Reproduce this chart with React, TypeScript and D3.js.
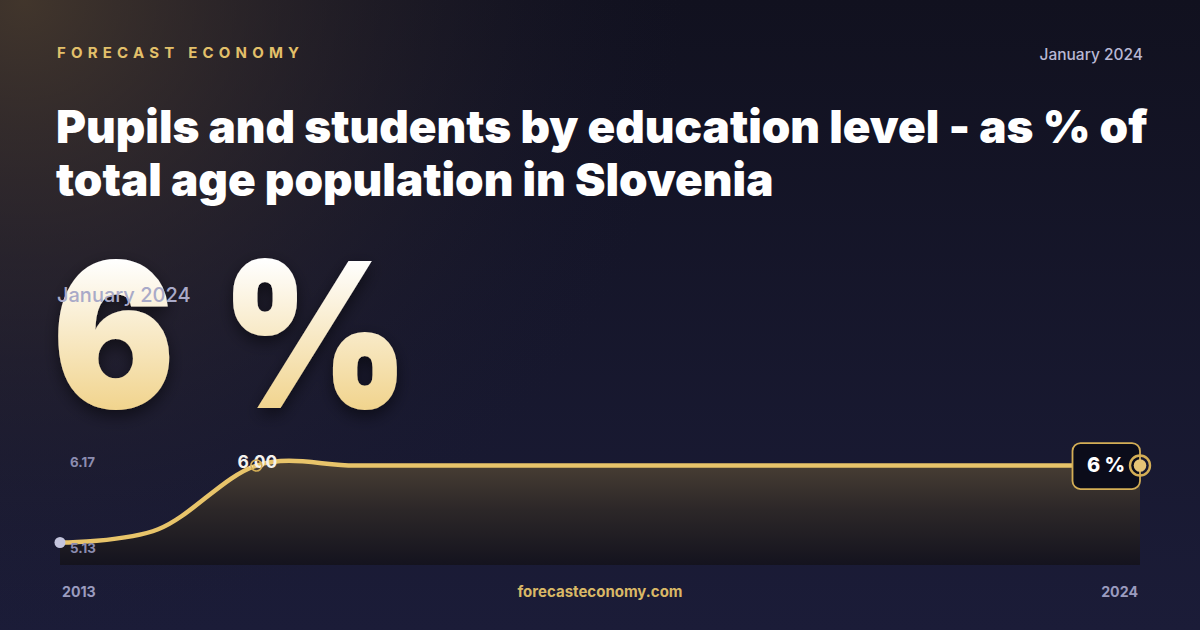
import React from "react";
import * as d3 from "d3";

const years = [2013, 2014, 2015, 2016, 2017, 2018, 2019, 2020, 2021, 2022, 2023, 2024];
const values = [5.13, 5.28, 6.0, 6.0, 6.0, 6.0, 6.0, 6.0, 6.0, 6.0, 6.0, 6.0];
const yTicks = [6.17, 5.13];
const xLabels = ["2013", "2024"];
const brand = "FORECAST ECONOMY";
const dateLabel = "January 2024";
const titleLines = ["Pupils and students by education level - as % of", "total age population in Slovenia"];
const bigValue = "6 %";
const highlightIndex = 2;
const highlightLabel = "6.00";
const endLabel = "6 %";
const site = "forecasteconomy.com";

const W = 1200;
const H = 630;
const FONT = "Inter, 'Noto Sans', sans-serif";

export default function App() {
  const x = d3.scaleLinear().domain([years[0], years[years.length - 1]]).range([60, 1140]);
  const y = d3.scaleLinear().domain([5.13, 6.17]).range([542.5, 450.5]);
  const baseY = 565;
  const pts: [number, number][] = years.map((yr, i) => [x(yr), y(values[i])]);
  const line = d3.line().curve(d3.curveCardinal.tension(0))(pts) || "";
  const area =
    d3
      .area<[number, number]>()
      .x((d) => d[0])
      .y0(baseY)
      .y1((d) => d[1])
      .curve(d3.curveCardinal.tension(0))(pts) || "";
  const last = pts[pts.length - 1];
  const first = pts[0];
  const hl = pts[highlightIndex];

  return (
    <svg width={W} height={H} viewBox={`0 0 ${W} ${H}`} style={{ display: "block", position: "absolute", left: 0, top: 0 }}>
      <defs>
        <linearGradient id="bg" x1="0" y1="0" x2="0" y2="1">
          <stop offset="0" stopColor="#11111f" />
          <stop offset="1" stopColor="#1b1c38" />
        </linearGradient>
        <radialGradient id="glow" cx="0.02" cy="0" r="0.55" gradientTransform="scale(1,1.9)">
          <stop offset="0" stopColor="#4a3c2e" stopOpacity="0.85" />
          <stop offset="0.5" stopColor="#3a3030" stopOpacity="0.35" />
          <stop offset="1" stopColor="#1a1a30" stopOpacity="0" />
        </radialGradient>
        <linearGradient id="areaFill" gradientUnits="userSpaceOnUse" x1="0" y1="455" x2="0" y2="565">
          <stop offset="0" stopColor="#4d4236" />
          <stop offset="0.5" stopColor="#2c2728" />
          <stop offset="1" stopColor="#14131e" />
        </linearGradient>
        <linearGradient id="bigG" gradientUnits="userSpaceOnUse" x1="0" y1="-148" x2="0" y2="2">
          <stop offset="0" stopColor="#ffffff" />
          <stop offset="1" stopColor="#f1d48e" />
        </linearGradient>
        <filter id="shadow" x="-20%" y="-20%" width="140%" height="160%">
          <feDropShadow dx="0" dy="6" stdDeviation="8" floodColor="#000000" floodOpacity="0.5" />
        </filter>
      </defs>
      <rect width={W} height={H} fill="url(#bg)" />
      <rect width={W} height={H} fill="url(#glow)" />

      <text x={57} y={58} fill="#e3c06a" fontFamily={FONT} fontWeight={700} fontSize={15} letterSpacing={5.2}>
        {brand}
      </text>
      <text x={1143} y={60} textAnchor="end" fill="#b8b8d4" fontFamily={FONT} fontWeight={500} fontSize={15.5}>
        {dateLabel}
      </text>
      {titleLines.map((t, i) => (
        <text key={i} x={56} y={143 + i * 53} fill="#ffffff" fontFamily={FONT} fontWeight={900} fontSize={45.8}>
          {t}
        </text>
      ))}

      <g transform="translate(53,407) scale(0.9,1)" filter="url(#shadow)">
        <text x={0} y={0} fill="url(#bigG)" stroke="url(#bigG)" strokeWidth={2} fontFamily={FONT} fontWeight={900} fontSize={200} letterSpacing={6}>
          {bigValue}
        </text>
      </g>
      <text x={57} y={302} fill="#a9aac8" fontFamily={FONT} fontWeight={500} fontSize={20}>
        {dateLabel}
      </text>

      <path d={area} fill="url(#areaFill)" />
      <path d={line} fill="none" stroke="#e8c46a" strokeWidth={4.5} />

      {yTicks.map((t, i) => (
        <text key={i} x={70} y={y(t) + (i === 0 ? 16 : 10.5)} fill="#8c8db0" fontFamily={FONT} fontWeight={700} fontSize={13.3}>
          {t.toFixed(2)}
        </text>
      ))}

      <circle cx={first[0]} cy={first[1]} r={5.5} fill="#c4c5dd" />

      <text x={hl[0] + 1} y={hl[1] + 2} textAnchor="middle" fill="#f4f2ee" fontFamily={FONT} fontWeight={700} fontSize={17.5}>
        {highlightLabel}
      </text>
      <circle cx={hl[0]} cy={hl[1]} r={5.5} fill="none" stroke="#d4ae56" strokeWidth={1.6} />

      <rect x={last[0] - 67.5} y={last[1] - 22.5} width={67.5} height={46} rx={8} fill="#0b0c1a" stroke="#d4ae56" strokeWidth={1.8} />
      <text x={last[0] - 34} y={last[1] + 6.5} textAnchor="middle" fill="#ffffff" fontFamily={FONT} fontWeight={800} fontSize={20}>
        {endLabel}
      </text>
      <circle cx={last[0]} cy={last[1]} r={10} fill="none" stroke="#d4ae56" strokeWidth={2.4} />
      <circle cx={last[0]} cy={last[1]} r={6.3} fill="#e6c476" />

      <text x={62} y={597} fill="#9a9bbf" fontFamily={FONT} fontWeight={700} fontSize={14.2}>
        {xLabels[0]}
      </text>
      <text x={1138} y={597} textAnchor="end" fill="#9a9bbf" fontFamily={FONT} fontWeight={700} fontSize={14.2}>
        {xLabels[1]}
      </text>
      <text x={600} y={597} textAnchor="middle" fill="#d9b866" fontFamily={FONT} fontWeight={700} fontSize={15}>
        {site}
      </text>
    </svg>
  );
}
